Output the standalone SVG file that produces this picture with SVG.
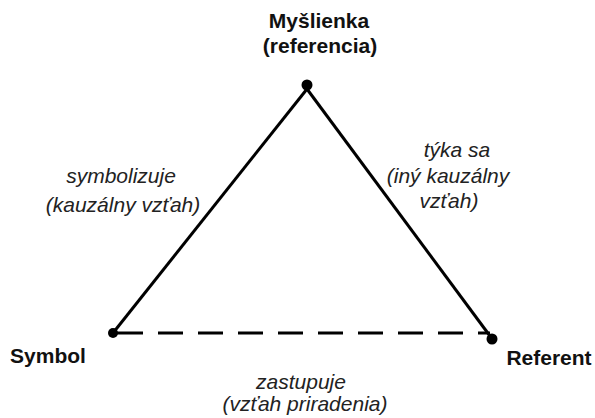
<svg xmlns="http://www.w3.org/2000/svg" width="595" height="418" viewBox="0 0 595 418">
<style>
.node{font-family:"Liberation Sans",Arial,sans-serif;font-size:21px;font-weight:bold;fill:#111;text-anchor:middle}
.lbl{font-family:"Liberation Sans",Arial,sans-serif;font-size:21px;font-style:italic;fill:#222;text-anchor:middle}
.edge{stroke:#000;stroke-width:3;fill:none}
.dot{fill:#000}
</style>
<rect width="595" height="418" fill="#fff"/>
<g id="connectors">
<line class="edge" x1="307" y1="89" x2="113" y2="333"/>
<line class="edge" x1="307" y1="89" x2="490" y2="336"/>
<line class="edge" x1="113" y1="333" x2="118" y2="333"/>
<line class="edge" x1="118" y1="333" x2="490" y2="333" stroke-dasharray="25 15"/>
<text class="lbl" x="121" y="183">symbolizuje</text>
<text class="lbl" x="123" y="212">(kauzálny vzťah)</text>
<text class="lbl" x="457" y="157">týka sa</text>
<text class="lbl" x="448" y="183">(iný kauzálny</text>
<text class="lbl" x="449" y="208">vzťah)</text>
<text class="lbl" x="301" y="389">zastupuje</text>
<text class="lbl" x="305" y="411">(vzťah priradenia)</text>
</g>
<g id="myslienka">
<circle class="dot" cx="307" cy="85" r="5.5"/>
<text class="node" x="319" y="28">Myšlienka</text>
<text class="node" x="320" y="53">(referencia)</text>
</g>
<g id="symbol">
<circle class="dot" cx="113" cy="333" r="5"/>
<text class="node" x="48" y="363">Symbol</text>
</g>
<g id="referent">
<circle class="dot" cx="492" cy="339" r="5.5"/>
<text class="node" x="549" y="365">Referent</text>
</g>
</svg>
